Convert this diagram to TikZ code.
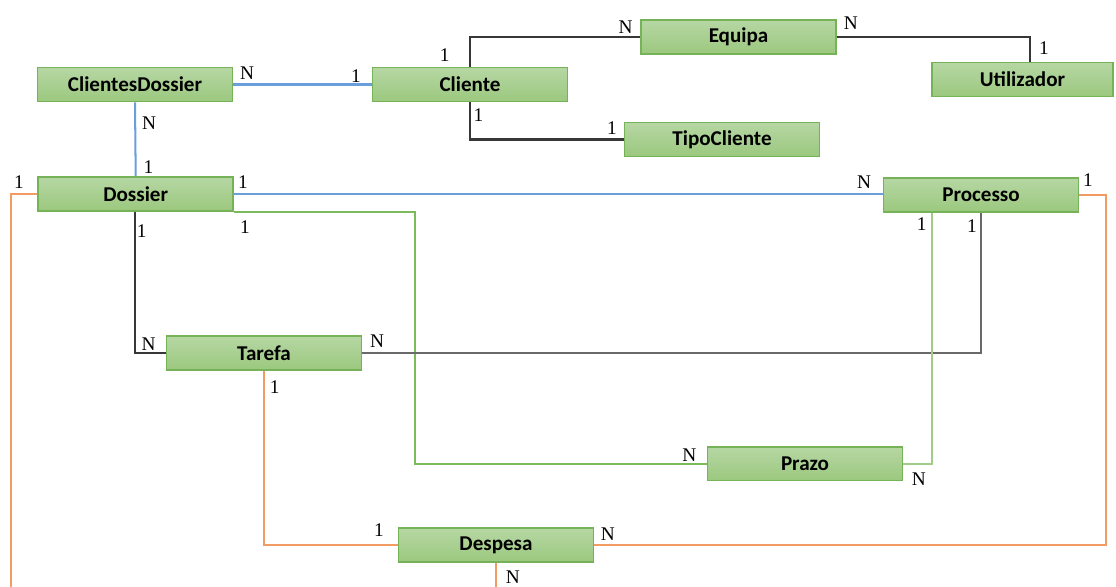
\documentclass[tikz,border=0pt]{standalone}
\usepackage{fontspec}
\setmainfont{Liberation Serif}
\newfontfamily\entfont{Carlito}
\usetikzlibrary{calc}

\definecolor{boxtop}{RGB}{182,215,164}
\definecolor{boxbot}{RGB}{155,200,126}
\definecolor{boxline}{RGB}{118,178,88}
\definecolor{linkblue}{RGB}{106,158,220}
\definecolor{linkorange}{RGB}{242,156,100}
\definecolor{linkgreen}{RGB}{124,186,92}
\definecolor{linklight}{RGB}{160,206,136}
\definecolor{linkdark}{RGB}{55,55,55}
\definecolor{linkgray}{RGB}{105,105,105}

\tikzset{
  entity/.style={draw=boxline, line width=0.9pt, top color=boxtop, bottom color=boxbot,
    minimum width=3.9cm, minimum height=0.68cm, inner sep=0pt,
    font=\entfont\bfseries\fontsize{12}{14}\selectfont},
  card/.style={inner sep=0pt, font=\fontsize{11}{12}\selectfont},
  link/.style={line width=1.15pt}
}

\begin{document}
\begin{tikzpicture}[x=0.02cm, y=-0.02cm]
\begin{scope}
\useasboundingbox (0,0) rectangle (1116,586);

% entidades
\node[entity] (equipa) at (738.5,37) {Equipa};
\node[entity] (clientesdossier) at (135,84.5) {ClientesDossier};
\node[entity] (cliente) at (470,84.5) {Cliente};
\node[entity, minimum width=3.62cm] (utilizador) at (1022.5,79.5) {Utilizador};
\node[entity] (tipocliente) at (722,139.5) {TipoCliente};
\node[entity] (dossier) at (135.7,193.8) {Dossier};
\node[entity] (processo) at (981,194.8) {Processo};
\node[entity] (tarefa) at (264,353) {Tarefa};
\node[entity] (prazo) at (805,463.7) {Prazo};
\node[entity] (despesa) at (496,545) {Despesa};

\coordinate (leftend) at (11,590);
\coordinate (despesaend) at (496,590);

% ligacoes
\draw[link, linkdark] (cliente.north) |- (equipa.west);
\draw[link, linkdark] (equipa.east) -| ($(utilizador.north)+(7.5,0)$);
\draw[link, linkdark] (cliente.south) |- (tipocliente.west);
\draw[link, linkblue] (clientesdossier.east) -- (cliente.west);
\draw[link, linkblue] (clientesdossier.south) -- (dossier.north);
\draw[link, linkblue] (dossier.east) -- (processo.west |- dossier.east);
\draw[link, linkorange] (dossier.west) -| (leftend);
\draw[link, linkdark] ($(dossier.south)+(-1,0)$) |- (tarefa.west);
\draw[link, linkgreen] (dossier.south east) -- ++(181,0) |- (prazo.west);
\draw[linkgray, line width=1.4pt] (tarefa.east) -| (processo.south);
\draw[link, linklight] ($(processo.south)+(-49,0)$) |- (prazo.east);
\draw[link, linkorange] (tarefa.south) |- (despesa.west);
\draw[link, linkorange] (despesa.east) -- ++(512,0) |- (processo.east);
\draw[link, linkorange] (despesa.south) -- (despesaend);

% cardinalidades
\node[card] (c1) at (247,72.7) {N};
\node[card] (c2) at (356,76) {1};
\node[card] (c3) at (444.7,55) {1};
\node[card] (c4) at (625.6,26.7) {N};
\node[card] (c5) at (850.8,23.3) {N};
\node[card] (c6) at (1044,47.7) {1};
\node[card] (c7) at (478.4,115) {1};
\node[card] (c8) at (612,128.3) {1};
\node[card] (c9) at (149,122.7) {N};
\node[card] (c10) at (148.5,167) {1};
\node[card] (c11) at (19,181.7) {1};
\node[card] (c12) at (243,181.7) {1};
\node[card] (c13) at (864,181.7) {N};
\node[card] (c14) at (1088,180) {1};
\node[card] (c15) at (141.6,230.7) {1};
\node[card] (c16) at (245,227.3) {1};
\node[card] (c17) at (921.7,224) {1};
\node[card] (c18) at (972,226) {1};
\node[card] (c19) at (148.5,344) {N};
\node[card] (c20) at (377,340.7) {N};
\node[card] (c21) at (274.8,387.3) {1};
\node[card] (c22) at (689.4,455) {N};
\node[card] (c23) at (918.9,479.3) {N};
\node[card] (c24) at (378.9,530) {1};
\node[card] (c25) at (607.9,534) {N};
\node[card] (c26) at (512.8,576.7) {N};

\end{scope}
\end{tikzpicture}
\end{document}
